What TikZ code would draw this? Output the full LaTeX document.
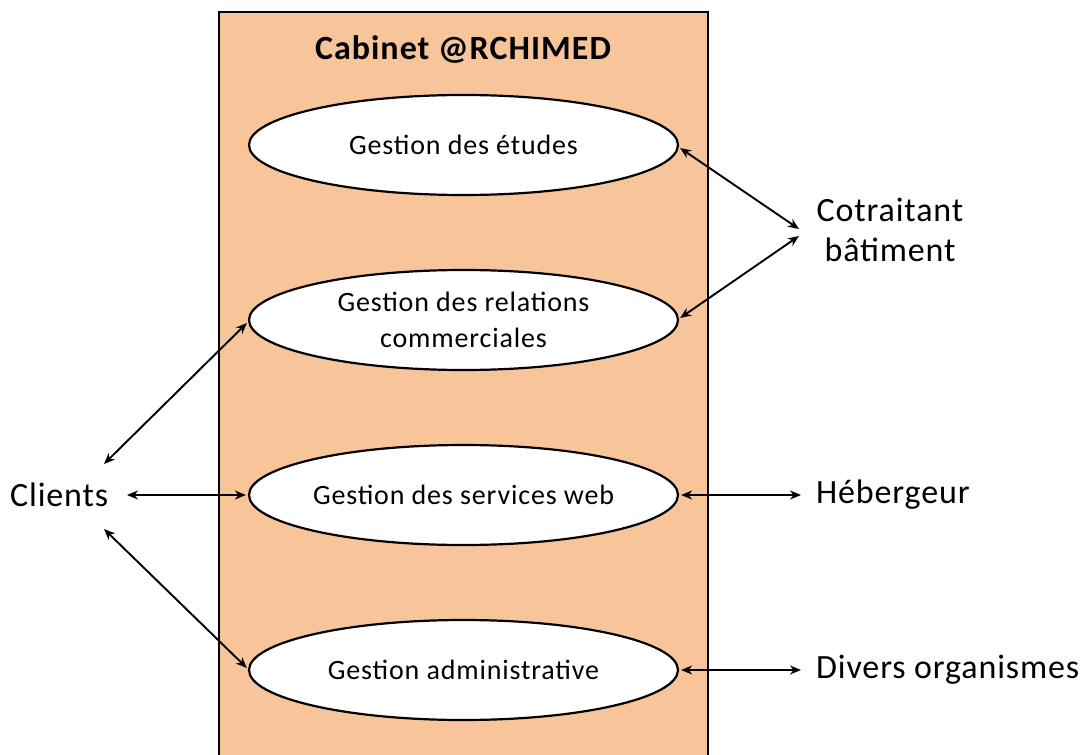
\documentclass[tikz,border=0pt]{standalone}
\usepackage{fontspec}
\setmainfont{Carlito}
\usetikzlibrary{shapes.geometric,arrows.meta,calc}
\definecolor{peach}{HTML}{F8C59B}
\tikzset{
  uc/.style={ellipse, draw=black, line width=2.2pt, fill=white, minimum width=429pt, minimum height=100pt, inner sep=0pt, align=center, font=\fontsize{28}{36}\selectfont\addfontfeature{LetterSpace=3}},
  actor/.style={inner sep=0pt, align=center, font=\fontsize{34}{40}\selectfont\addfontfeature{LetterSpace=2.5}},
  link/.style={line width=1.9pt, {Stealth[length=11pt,width=9pt]}-{Stealth[length=11pt,width=9pt]}},
}
\begin{document}
\begin{tikzpicture}[x=1pt,y=-1pt]
\useasboundingbox (0,0) rectangle (1085,755);
\fill[peach] (219,12) rectangle (708,760);
\draw[line width=2.2pt] (219,760) -- (219,12) -- (708,12) -- (708,760);
\node[font=\fontsize{34}{40}\selectfont\bfseries\addfontfeature{LetterSpace=3}] (title) at (463,50) {Cabinet @RCHIMED};
\node[uc] (e1) at (463.5,145) {Gestion des études};
\node[uc] (e2) at (463.5,320) {Gestion des relations\\commerciales};
\node[uc] (e3) at (463.5,495) {Gestion des services web};
\node[uc] (e4) at (463.5,670) {Gestion administrative};
\node[actor] (cot) at (890,230) {Cotraitant\\bâtiment};
\node[actor, anchor=west] (heb) at (816,495) {Hébergeur};
\node[actor, anchor=west] (div) at (816,670) {Divers organismes};
\node[actor, anchor=west] (cli) at (10,495) {Clients};
\coordinate (cotA) at (799,229);
\coordinate (cotB) at (799,236);
\coordinate (cliT) at (104,464);
\coordinate (cliM) at (127,495);
\coordinate (cliB) at (104,529);
\coordinate (hebL) at (801,495);
\coordinate (divL) at (801,670);
\draw[link] ($(e1.east)+(1,3)$) -- (cotA);
\draw[link] (cotB) -- ($(e2.east)+(1,-2)$);
\draw[link] (cliT) -- ($(e2.west)+(-1,3)$);
\draw[link] (cliM) -- ($(e3.west)+(-2,0)$);
\draw[link] (cliB) -- ($(e4.west)+(-1,-2)$);
\draw[link] ($(e3.east)+(2,0)$) -- (hebL);
\draw[link] ($(e4.east)+(2,0)$) -- (divL);
\end{tikzpicture}
\end{document}
